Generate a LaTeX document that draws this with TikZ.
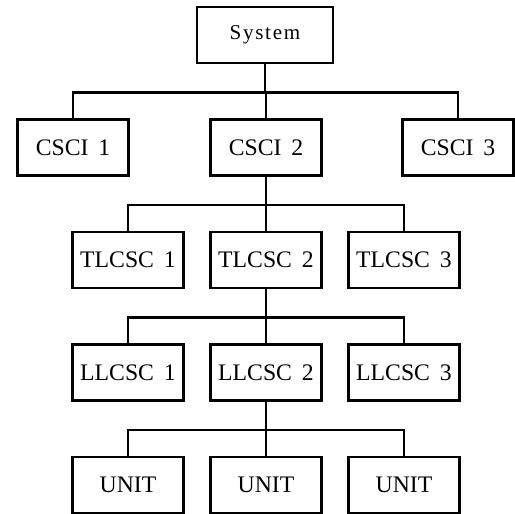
\documentclass[tikz,border=0pt]{standalone}
\usepackage{fontspec}
\setmainfont{Liberation Serif}
\newfontfamily\spacedserif[LetterSpace=8]{Liberation Serif}

\begin{document}
\begin{tikzpicture}[
    blk/.style={rectangle, draw=black, line width=1.3pt,
                minimum width=2.22cm, minimum height=1.12cm, inner sep=0pt,
                font=\fontsize{13.5}{16}\selectfont},
    sysbox/.style={blk, minimum width=2.72cm,
                   font=\spacedserif\fontsize{12}{14}\selectfont},
    wire/.style={draw=black, line width=1.3pt}]
  \useasboundingbox (0,0) rectangle (10.30,10.28);
  \def\dy{2.25}
  \def\dx{2.76}
  \def\yt{9.58}         % row of the System box
  \def\hw{0.565}        % half the gap between two rows of boxes
  \node[sysbox] (sys) at (5.30,\yt) {System};
  \foreach \i/\x in {1/1.46,2/5.32,3/9.16} { \node[blk] (csci\i) at (\x,{\yt-\dy}) {CSCI\ \,\i}; }
  \foreach \i in {1,2,3} {
    \node[blk] (tl\i) at ({5.32+(\i-2)*\dx},{\yt-2*\dy}) {TLCSC\ \,\i};
    \node[blk] (ll\i) at ({5.32+(\i-2)*\dx},{\yt-3*\dy}) {LLCSC\ \,\i};
    \node[blk] (unit\i) at ({5.32+(\i-2)*\dx},{\yt-4*\dy}) {UNIT};
  }
  % tree connectors
  \foreach \i in {1,2,3} {
    \draw[wire] (sys.south) -- ++(0,-\hw) -| (csci\i.north);
    \draw[wire] (csci2.south) -- ++(0,-\hw) -| (tl\i.north);
    \draw[wire] (tl2.south) -- ++(0,-\hw) -| (ll\i.north);
    \draw[wire] (ll2.south) -- ++(0,-\hw) -| (unit\i.north);
  }
\end{tikzpicture}
\end{document}
